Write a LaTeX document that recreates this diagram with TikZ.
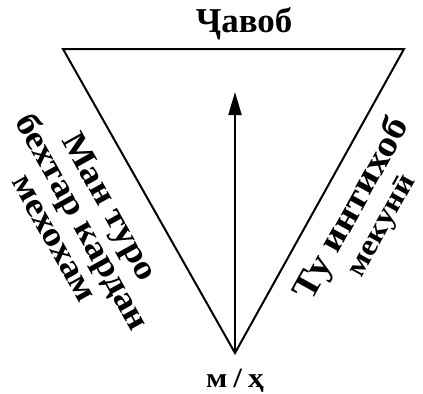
\documentclass[tikz,border=0pt]{standalone}
\usepackage{fontspec}
\setmainfont{Liberation Serif}
\newfontfamily\widefont[FakeStretch=1.12]{Liberation Serif}
\usetikzlibrary{arrows.meta}
\tikzset{
  lbl/.style={font=\bfseries, inner sep=0pt, align=center},
  edge/.style={line width=2bp, line join=miter},
}
\begin{document}
\begin{tikzpicture}[x=1bp,y=-1bp]
\useasboundingbox (0,0) rectangle (423,394);
\coordinate (tl) at (63,49);
\coordinate (tr) at (404,49);
\coordinate (bt) at (235,353);
\draw[edge] (tl) -- (tr) -- (bt) -- cycle;
\coordinate (tip) at (235,92);
\draw[line width=2bp, -{Triangle[length=23bp,width=13bp]}] (bt) -- (tip);
\node[lbl, anchor=base, font=\bfseries\fontsize{35}{37}\selectfont] (title) at (244,32) {Ҷавоб};
\node[lbl, anchor=base, font=\widefont\bfseries\fontsize{28}{29}\selectfont] (mh) at (235,387) {м\hspace{6bp}/\hspace{6bp}ҳ};
\node[lbl, rotate=-60.8, font=\widefont\bfseries\fontsize{34}{32}\selectfont] (left) at (83,222)
  {Ман туро\\бехтар кардан\\мехохам};
\node[lbl, rotate=61, font=\widefont\bfseries\fontsize{36}{32}\selectfont] (right) at (366,217)
  {Ту интихоб\\{\fontsize{30}{32}\selectfont мекунӣ}};
\end{tikzpicture}
\end{document}
